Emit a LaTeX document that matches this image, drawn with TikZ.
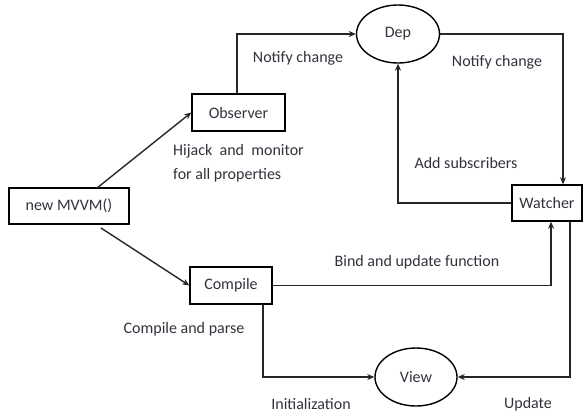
\documentclass[tikz,border=0pt]{standalone}
\usepackage{fontspec}
\setmainfont{Carlito}
\usetikzlibrary{arrows.meta,shapes.geometric}
\definecolor{txt}{RGB}{50,50,60}
\begin{document}
\begin{tikzpicture}[x=1pt,y=-1pt,
  every node/.style={font=\fontsize{16}{20}\selectfont, text=txt},
  box/.style={draw=black, line width=1.4pt, inner sep=0pt},
  oval/.style={draw=black, line width=1.4pt, ellipse, inner sep=0pt},
  lbl/.style={inner sep=0pt},
  conn/.style={line width=1.4pt, draw=black!85},
  arr/.style={conn, -{Stealth[length=7pt,width=6pt]}}]
\useasboundingbox (0,0) rectangle (583,413);
\node[box, minimum width=120pt, minimum height=36pt] (mvvm) at (69,206) {new MVVM()};
\node[box, minimum width=93pt, minimum height=37pt] (obs) at (238.5,112.5) {Observer};
\node[box, minimum width=82pt, minimum height=37pt] (comp) at (231,285.5) {Compile};
\node[box, minimum width=70pt, minimum height=36pt] (watch) at (547,203) {Watcher};
\node[oval, minimum width=83pt, minimum height=58pt] (dep) at (398,34) {Dep};
\node[oval, minimum width=82pt, minimum height=58pt] (view) at (416,377) {View};

\coordinate (m1) at (97,188);
\coordinate (m2) at (101,228);
\draw[arr] (m1) -- (obs.west);
\draw[arr] (m2) -- (comp.west);

\draw[arr] (obs.north -| 237,0) |- (dep.west);
\draw[arr] (dep.east) -| (563,0 |- watch.north);
\draw[arr] (watch.west) -| (dep.south);
\draw[arr] (comp.east) -| (551,0 |- watch.south);
\draw[arr] (comp.south -| 263,0) |- (view.west);
\draw[arr] (watch.south -| 570,0) |- (view.east);

\node[lbl] (l1) at (298,58) {Notify change};
\node[lbl] (l2) at (497,62) {Notify change};
\node[lbl] (l3) at (466,163) {Add subscribers};
\node[lbl, anchor=west] (l4) at (173,151) {Hijack\ \ and\ \ monitor};
\node[lbl, anchor=west] (l5) at (173,175) {for all properties};
\node[lbl] (l6) at (417,262) {Bind and update function};
\node[lbl] (l7) at (184,329) {Compile and parse};
\node[lbl] (l8) at (311,404) {Initialization};
\node[lbl] (l9) at (528,404) {Update};
\end{tikzpicture}
\end{document}
